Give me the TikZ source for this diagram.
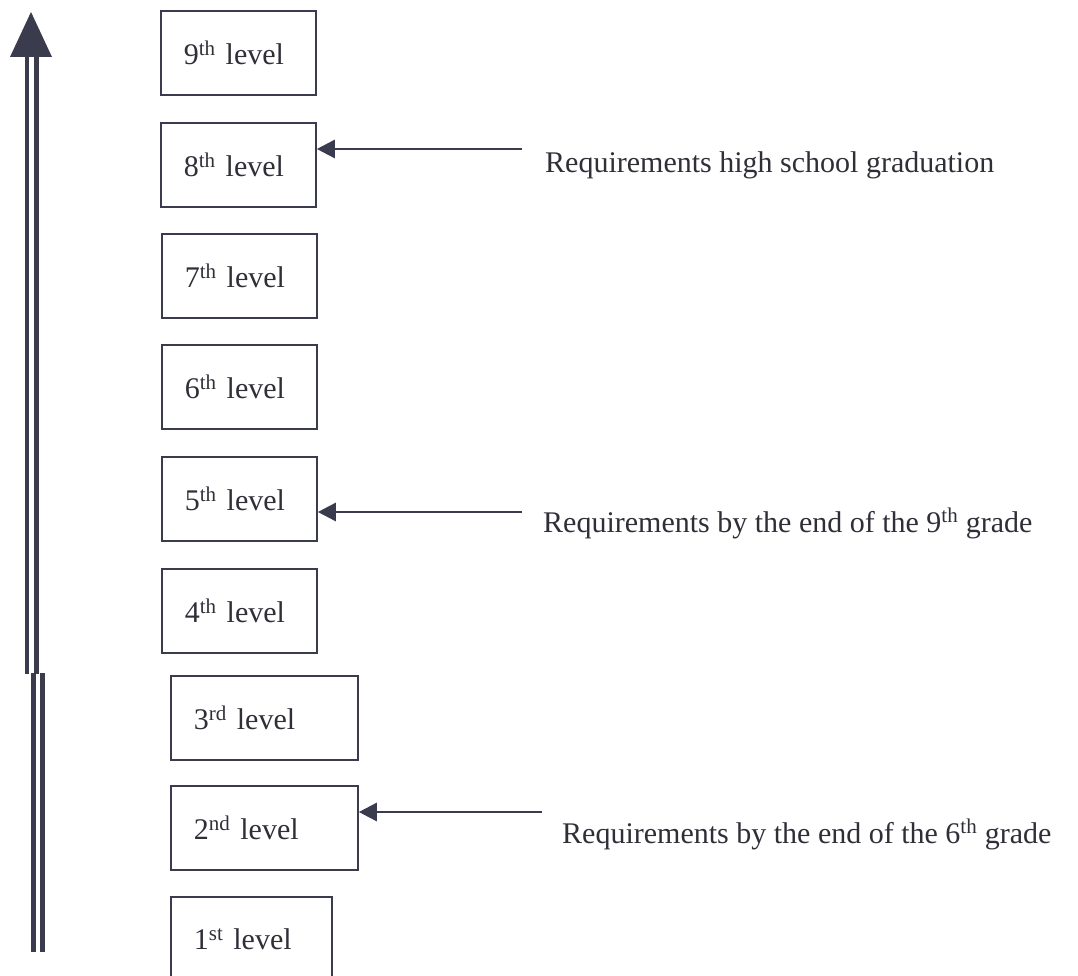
\documentclass[tikz,border=0pt]{standalone}
\usepackage{fontspec}
\setmainfont{Liberation Serif}
\usetikzlibrary{arrows.meta}

\definecolor{ink}{HTML}{3A3C4E}
\definecolor{txt}{HTML}{2F2F38}

\tikzset{
    level/.style={draw=ink, line width=1.8pt, anchor=north west, minimum height=84pt,
        inner xsep=23pt, align=left, text=txt, font=\fontsize{30}{36}\selectfont},
    req/.style={anchor=base west, inner sep=0pt, text=txt, font=\fontsize{30}{36}\selectfont},
    conn/.style={ink, line width=2.6pt, -{Triangle[length=18pt,width=18pt]}}
}

\begin{document}
\begin{tikzpicture}[x=1pt,y=-1pt]
            \clip (0,0) rectangle (1078,976);

            % rising arrow on the left
            \coordinate (tip) at (31,12);
            \coordinate (bl) at (10,57);
            \coordinate (br) at (52,57);
            \fill[ink] (bl)--(tip)--(br)--cycle;
            \draw[ink, line width=4.5pt] (27,57)--(27,674);
            \draw[ink, line width=4.5pt] (36.5,57)--(36.5,674);
            \draw[ink, line width=4.5pt] (33.5,673)--(33.5,952);
            \draw[ink, line width=4.5pt] (42.5,673)--(42.5,952);

            % levels
            \node[level, text width=109pt] (lv9) at (160,10) {9\textsuperscript{th} level};
            \node[level, text width=109pt] (lv8) at (160,122) {8\textsuperscript{th} level};
            \node[level, text width=109pt] (lv7) at (161,233) {7\textsuperscript{th} level};
            \node[level, text width=109pt] (lv6) at (161,344) {6\textsuperscript{th} level};
            \node[level, text width=109pt] (lv5) at (161,456) {5\textsuperscript{th} level};
            \node[level, text width=109pt] (lv4) at (161,568) {4\textsuperscript{th} level};
            \node[level, text width=141pt] (lv3) at (170,675) {3\textsuperscript{rd} level};
            \node[level, text width=141pt] (lv2) at (170,785) {2\textsuperscript{nd} level};
            \node[level, text width=115pt] (lv1) at (170,896) {1\textsuperscript{st} level};

            % requirements
            \node[req] (req8) at (545,173) {Requirements high school graduation};
            \node[req] (req5) at (543,532) {Requirements by the end of the 9\textsuperscript{th} grade};
            \node[req] (req2) at (562,843) {Requirements by the end of the 6\textsuperscript{th} grade};

            \coordinate (t8) at (522,149);
            \coordinate (t5) at (522,512);
            \coordinate (t2) at (542,812);
            \draw[conn] (t8)--(t8 -| lv8.east);
            \draw[conn] (t5)--(t5 -| lv5.east);
            \draw[conn] (t2)--(t2 -| lv2.east);
        \end{tikzpicture}
\end{document}
